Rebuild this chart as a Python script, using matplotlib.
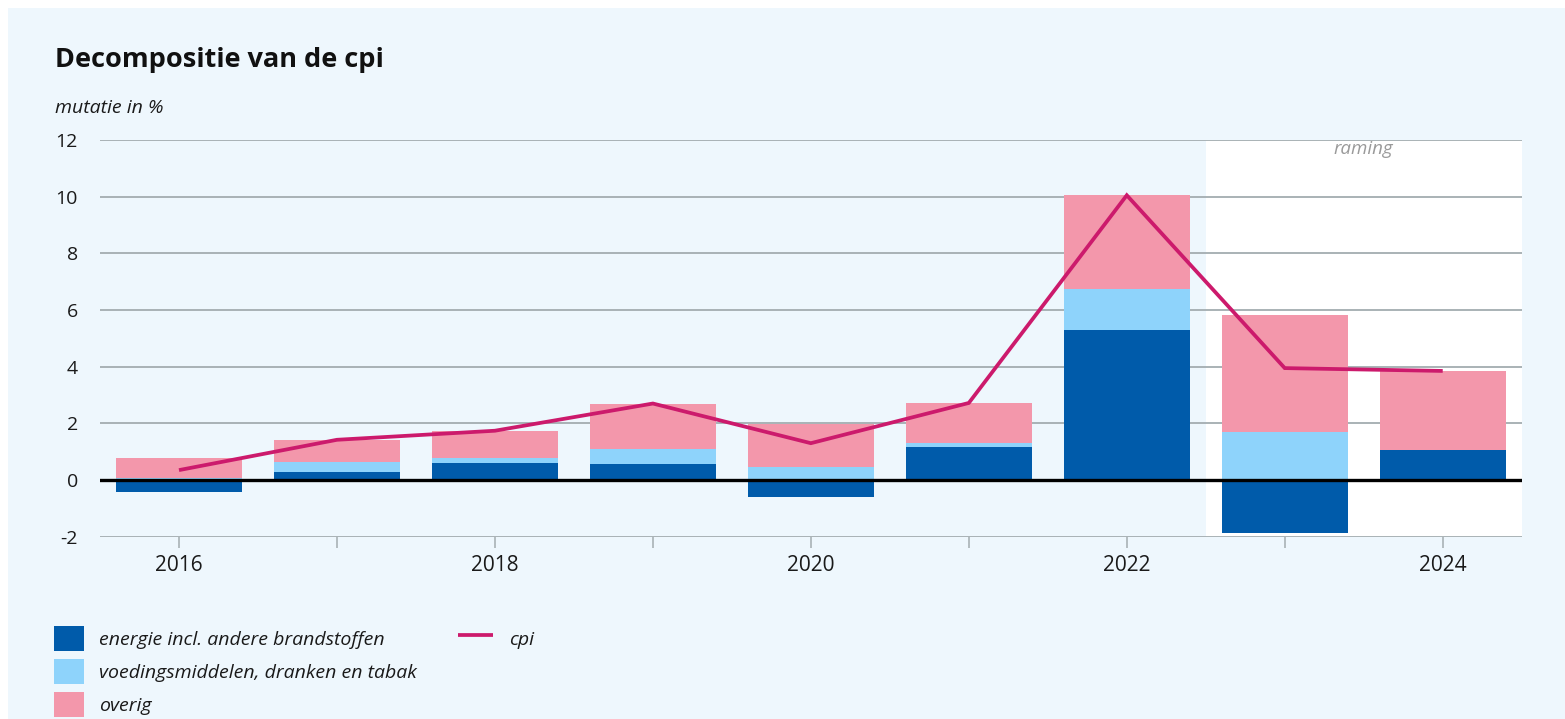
import matplotlib
matplotlib.use("Agg")
import matplotlib.pyplot as plt
import numpy as np
from matplotlib.patches import Rectangle

# ---- data ----
years = [2016, 2017, 2018, 2019, 2020, 2021, 2022, 2023, 2024]
energie = [-0.41, 0.29, 0.59, 0.57, -0.61, 1.18, 5.30, -1.87, 1.07]
voeding = [0.08, 0.36, 0.18, 0.53, 0.47, 0.13, 1.45, 1.71, 0.0]
overig = [0.71, 0.76, 0.97, 1.57, 1.51, 1.41, 3.30, 4.13, 2.78]
cpi = [0.35, 1.42, 1.74, 2.70, 1.30, 2.72, 10.05, 3.95, 3.85]
yticks = [-2, 0, 2, 4, 6, 8, 10, 12]
xlabel_years = [2016, 2018, 2020, 2022, 2024]
raming_start = 2022.5
labels = ["energie incl. andere brandstoffen",
          "voedingsmiddelen, dranken en tabak",
          "overig"]

# ---- style ----
W, H = 1565, 719
BG = "#EEF7FD"
C_EN = "#005BAA"
C_VO = "#8ED3FB"
C_OV = "#F397AB"
C_CPI = "#CC1A6C"
GRID = "#A9B2B6"
FONT = ["Open Sans", "DejaVu Sans"]
plt.rcParams["font.family"] = FONT

fig = plt.figure(figsize=(W / 100, H / 100), dpi=100, facecolor="white")
fig.patches.append(Rectangle((8 / W, 0), 1 - 8 / W, 1 - 8 / H,
                             transform=fig.transFigure, facecolor=BG,
                             edgecolor="none", zorder=-10))

ax = fig.add_axes([100 / W, 1 - 536.7 / H, (1521.7 - 100) / W, (536.7 - 140) / H])
ax.patch.set_alpha(0)

x = np.array(years, dtype=float)
en = np.array(energie)
vo = np.array(voeding)
ov = np.array(overig)

pos_base = np.zeros_like(x)
neg_base = np.zeros_like(x)

def stack(vals):
    global pos_base, neg_base
    b = np.where(vals >= 0, pos_base, neg_base)
    pos_base = pos_base + np.where(vals >= 0, vals, 0)
    neg_base = neg_base + np.where(vals < 0, vals, 0)
    return b

bw = 0.8
b1 = ax.bar(x, en, bw, bottom=stack(en), color=C_EN, zorder=3, label=labels[0])
b2 = ax.bar(x, vo, bw, bottom=stack(vo), color=C_VO, zorder=3, label=labels[1])
b3 = ax.bar(x, ov, bw, bottom=stack(ov), color=C_OV, zorder=3, label=labels[2])
ln, = ax.plot(x, cpi, color=C_CPI, lw=2.7, zorder=5, solid_capstyle="butt",
              solid_joinstyle="miter", label="cpi")

ax.set_xlim(2015.5, 2024.5)
ax.set_ylim(-2, 12)

ax.axvspan(raming_start, 2024.5, ymin=0, ymax=1, color="white", zorder=0, lw=0)
ax.text(2023.5, 11.7, "raming", style="italic", color="#9A9A9A", fontsize=13.5,
        ha="center", va="center", zorder=6)

for t in yticks:
    if t == 0:
        ax.axhline(0, color="black", lw=2.4, zorder=4)
    else:
        ax.axhline(t, color=GRID, lw=1.4, zorder=1)

for s in ax.spines.values():
    s.set_visible(False)

ax.set_yticks(yticks)
ax.set_yticklabels([str(t) for t in yticks])
ax.tick_params(axis="y", length=0, pad=16, labelsize=14, labelcolor="#1a1a1a")

ax.set_xticks(years)
ax.set_xticklabels([str(y) if y in xlabel_years else "" for y in years])
ax.tick_params(axis="x", length=8, width=1.2, color=GRID, pad=5,
               labelsize=15, labelcolor="#1a1a1a")

fig.text(55 / W, 1 - 67 / H, "Decompositie van de cpi", fontsize=19.5,
         fontweight="bold", color="#111111", ha="left", va="baseline")
fig.text(55 / W, 1 - 113 / H, "mutatie in %", fontsize=14, style="italic",
         color="#1a1a1a", ha="left", va="baseline")

fs = 14
leg1 = fig.legend(handles=[b1, b2, b3], labels=labels, loc="upper left",
                  bbox_to_anchor=(54 / W, 1 - 626 / H), frameon=False,
                  prop={"style": "italic", "size": fs},
                  handlelength=1.55, handleheight=1.6, labelspacing=0.42,
                  handletextpad=0.75, borderpad=0, borderaxespad=0)
leg2 = fig.legend(handles=[ln], labels=["cpi"], loc="upper left",
                  bbox_to_anchor=(458 / W, 1 - 626 / H), frameon=False,
                  prop={"style": "italic", "size": fs},
                  handlelength=1.8, handleheight=1.6, handletextpad=0.85,
                  borderpad=0, borderaxespad=0)
for t in list(leg1.get_texts()) + list(leg2.get_texts()):
    t.set_color("#1a1a1a")

fig.savefig("out.png", dpi=100, facecolor=fig.get_facecolor())
